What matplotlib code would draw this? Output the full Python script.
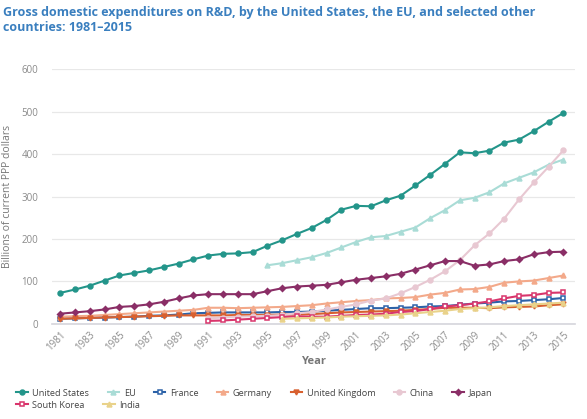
import numpy as np
import matplotlib
matplotlib.use("Agg")
import matplotlib.pyplot as plt
from matplotlib.lines import Line2D

plt.rcParams['font.family'] = ['Open Sans', 'DejaVu Sans']

years = list(range(1981, 2016))

us = [73, 81, 90, 102, 114, 120, 126, 134, 142, 152, 161, 165, 166, 169, 184,
      197, 212, 226, 245, 269, 278, 277, 291, 302, 326, 351, 377, 404, 402, 408,
      427, 434, 454, 476, 497]
eu_years = list(range(1995, 2016))
eu = [138, 143, 150, 157, 167, 180, 193, 204, 207, 217, 227, 249, 268, 291, 297,
      310, 331, 344, 357, 375, 387]
france = [12, 13, 14, 15, 16, 17, 19, 20, 22, 25, 26, 27, 27, 27, 27, 28, 28, 29,
          31, 33, 35, 37, 37, 38, 39, 41, 42, 45, 48, 50, 53, 54, 56, 58, 61]
germany = [17, 18, 19, 21, 23, 25, 27, 29, 31, 33, 38, 38, 37, 38, 39, 40, 42, 44,
           48, 51, 54, 56, 60, 61, 63, 69, 73, 81, 82, 87, 97, 100, 102, 108, 114]
uk = [12, 13, 14, 15, 16, 17, 18, 19, 20, 20, 20, 20, 21, 21, 21, 22, 22, 23, 25,
      27, 28, 29, 30, 31, 33, 35, 38, 38, 38, 37, 39, 40, 41, 44, 46]
china_years = list(range(1991, 2016))
china = [13, 15, 17, 18, 19, 21, 25, 28, 34, 40, 46, 55, 60, 72, 87, 104, 124, 150,
         185, 213, 248, 293, 333, 370, 409]
japan = [24, 27, 30, 34, 40, 42, 46, 52, 60, 67, 70, 70, 70, 70, 77, 84, 88, 90,
         92, 98, 104, 108, 112, 118, 128, 138, 148, 148, 137, 140, 148, 152, 164,
         169, 170]
korea_years = list(range(1991, 2016))
korea = [7, 8, 10, 12, 14, 16, 18, 17, 17, 19, 21, 22, 24, 28, 30, 35, 41, 44, 48,
         53, 60, 66, 68, 73, 74]
india_years = list(range(1996, 2016))
india = [12, 13, 14, 15, 17, 18, 19, 20, 22, 25, 28, 31, 35, 37, 39, 42, 44, 46, 48, 50]

series = [
    ("United States", years, us, "#23958a", "o", True),
    ("EU", eu_years, eu, "#a9dcd6", "^", True),
    ("France", years, france, "#2c62a8", "s", False),
    ("Germany", years, germany, "#f3a98a", "^", True),
    ("United Kingdom", years, uk, "#d8602f", "v", True),
    ("China", china_years, china, "#e8c8d2", "o", True),
    ("Japan", years, japan, "#8a2e66", "D", True),
    ("South Korea", korea_years, korea, "#d9356c", "s", False),
    ("India", india_years, india, "#e9d28a", "^", True),
]

fig = plt.figure(figsize=(5.87, 4.19), dpi=100)
ax = fig.add_axes([0.089, 0.227, 0.891, 0.608])

handles = []
for name, xs, ys, col, mk, filled in series:
    ms = 3.5 if mk != "D" else 3
    ax.plot(xs, ys, color=col, lw=1.5, marker=mk, markersize=ms,
            markerfacecolor=col if filled else "white", markeredgecolor=col,
            markeredgewidth=1.1, clip_on=False, zorder=3)
    handles.append(Line2D([0], [0], color=col, lw=1.5, marker=mk, markersize=ms,
                          markerfacecolor=col if filled else "white",
                          markeredgecolor=col, markeredgewidth=1.1))

ax.set_xlim(1980.46, 2015.8)
ax.set_ylim(0, 600)
ax.set_yticks(range(0, 601, 100))
ax.set_xticks(range(1981, 2016, 2))
ax.set_xticklabels([str(y) for y in range(1981, 2016, 2)], rotation=45, ha="right",
                   rotation_mode="anchor")
ax.tick_params(axis="both", length=0, labelsize=7, colors="#8a8a8a", pad=4)
ax.tick_params(axis="y", pad=10)
ax.grid(axis="y", color="#e8e8e8", lw=0.9)
ax.set_axisbelow(True)
for s in ["top", "right", "left"]:
    ax.spines[s].set_visible(False)
ax.spines["bottom"].set_color("#d5d5dc")
ax.spines["bottom"].set_linewidth(1.2)

ax.set_ylabel("Billions of current PPP dollars", fontsize=7.5, color="#777777", labelpad=6)
ax.set_xlabel("Year", fontsize=8, color="#777777", fontweight="bold", labelpad=2)

fig.text(0.005, 0.985, "Gross domestic expenditures on R&D, by the United States, the EU, and selected other\ncountries: 1981\u20132015",
         fontsize=9, fontweight="bold", color="#3a7fbf", va="top", ha="left", linespacing=1.2)

# two legend rows, entries flow left to right
names = [s[0] for s in series]
leg_kw = dict(frameon=False, fontsize=6.6, handlelength=1.25, handletextpad=0.5,
              columnspacing=2.0, labelcolor="#444444", borderpad=0, borderaxespad=0)
fig.legend(handles[:7], names[:7], loc="center left",
           bbox_to_anchor=(0.028, 0.062), ncol=7, **leg_kw)
fig.legend(handles[7:], names[7:], loc="center left",
           bbox_to_anchor=(0.028, 0.033), ncol=2, **leg_kw)

fig.savefig("out.png", dpi=100)
